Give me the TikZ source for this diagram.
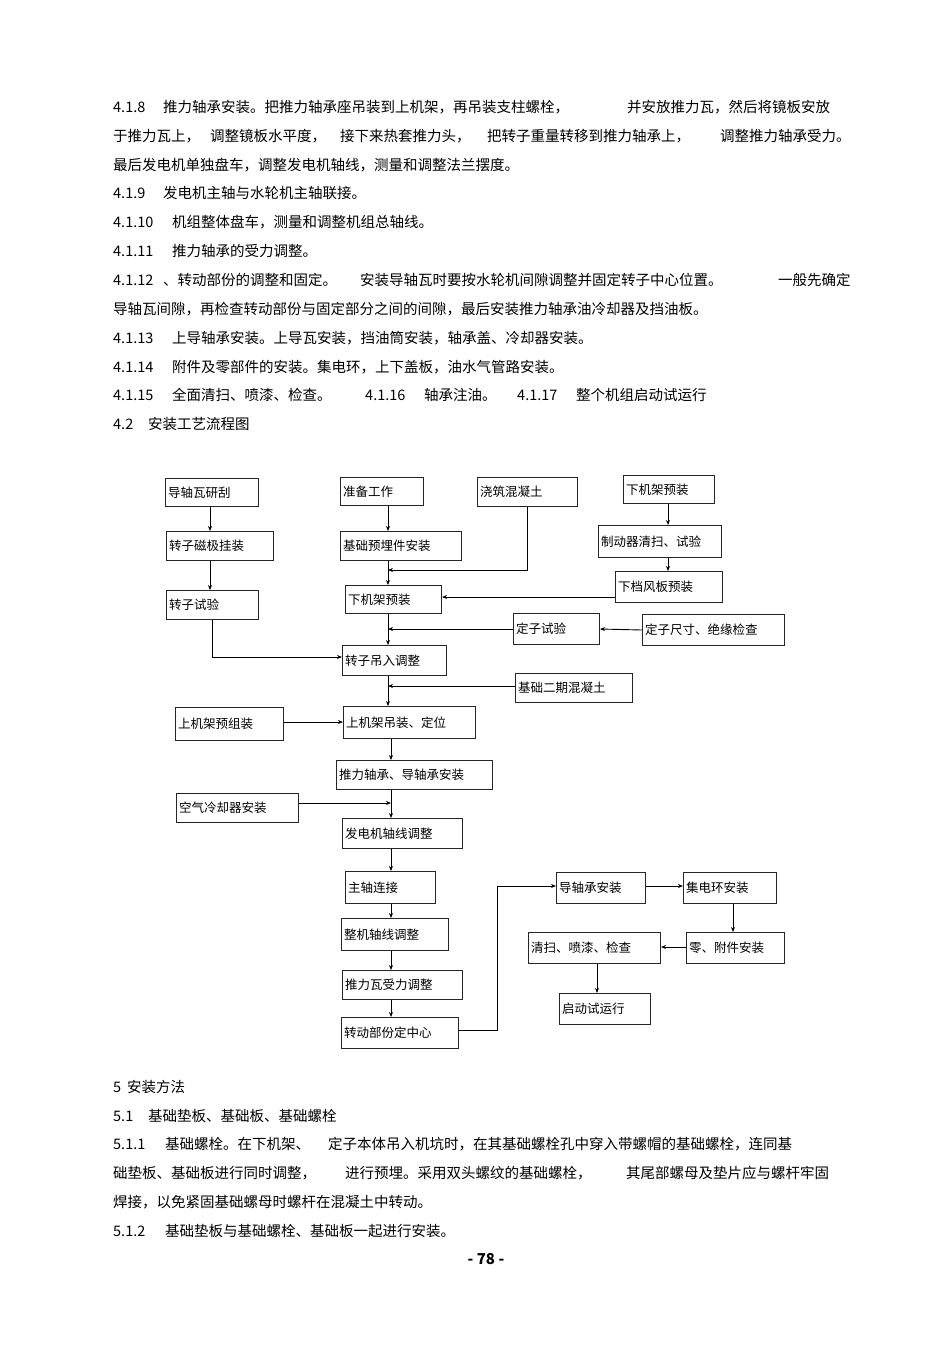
\documentclass[tikz,border=0pt]{standalone}
\usepackage{fontspec}
\setmainfont{Noto Sans CJK SC}
\usetikzlibrary{arrows.meta}
\newcommand{\bx}[6]{%
  \node[boxs,minimum width=#4pt-#2pt,minimum height=#5pt-#3pt] (#1) at (#2,#3) {};
  \node[btxt] (#1-t) at ([xshift=3pt]#1.west) {#6};}
\begin{document}
\begin{tikzpicture}[x=1pt,y=-1pt,
  boxs/.style={draw,line width=1pt,anchor=north west,inner sep=0pt,draw=black!85},
  btxt/.style={anchor=west,inner sep=0pt,font=\fontsize{12.5}{13}\selectfont},
  ptxt/.style={anchor=west,inner sep=0pt,font=\fontsize{14.5}{15}\selectfont},
  arr/.style={line width=0.9pt,-{Stealth[length=5pt,width=4pt]}},
  ln/.style={line width=0.9pt}]
\useasboundingbox[fill=white] (0,0) rectangle (950,1345);
% body text
\node[ptxt] (a1) at (113,107) {4.1.8};
\node[ptxt] (a2) at (163,107) {推力轴承安装。把推力轴承座吊装到上机架，再吊装支柱螺栓，};
\node[ptxt] (a3) at (627,107) {并安放推力瓦，然后将镜板安放};
\node[ptxt] (b1) at (113,136) {于推力瓦上，};
\node[ptxt] (b2) at (210,136) {调整镜板水平度，};
\node[ptxt] (b3) at (340,136) {接下来热套推力头，};
\node[ptxt] (b4) at (487,136) {把转子重量转移到推力轴承上，};
\node[ptxt] (b5) at (720,136) {调整推力轴承受力。};
\node[ptxt] (c1) at (113,165) {最后发电机单独盘车，调整发电机轴线，测量和调整法兰摆度。};
\node[ptxt] (d1) at (113,193) {4.1.9};
\node[ptxt] (d2) at (163,193) {发电机主轴与水轮机主轴联接。};
\node[ptxt] (e1) at (113,222) {4.1.10};
\node[ptxt] (e2) at (172,222) {机组整体盘车，测量和调整机组总轴线。};
\node[ptxt] (f1) at (113,251) {4.1.11};
\node[ptxt] (f2) at (172,251) {推力轴承的受力调整。};
\node[ptxt] (g1) at (113,280) {4.1.12};
\node[ptxt] (g2) at (163,280) {、转动部份的调整和固定。};
\node[ptxt] (g3) at (360,280) {安装导轴瓦时要按水轮机间隙调整并固定转子中心位置。};
\node[ptxt] (g4) at (778,280) {一般先确定};
\node[ptxt] (h1) at (113,309) {导轴瓦间隙，再检查转动部份与固定部分之间的间隙，最后安装推力轴承油冷却器及挡油板。};
\node[ptxt] (i1) at (113,338) {4.1.13};
\node[ptxt] (i2) at (172,338) {上导轴承安装。上导瓦安装，挡油筒安装，轴承盖、冷却器安装。};
\node[ptxt] (j1) at (113,367) {4.1.14};
\node[ptxt] (j2) at (172,367) {附件及零部件的安装。集电环，上下盖板，油水气管路安装。};
\node[ptxt] (k1) at (113,395) {4.1.15};
\node[ptxt] (k2) at (172,395) {全面清扫、喷漆、检查。};
\node[ptxt] (k3) at (365,395) {4.1.16};
\node[ptxt] (k4) at (424,395) {轴承注油。};
\node[ptxt] (k5) at (517,395) {4.1.17};
\node[ptxt] (k6) at (576,395) {整个机组启动试运行};
\node[ptxt] (l1) at (113,424) {4.2};
\node[ptxt] (l2) at (148,424) {安装工艺流程图};
\node[ptxt] (m1) at (113,1087) {5\hspace{6pt}安装方法};
\node[ptxt] (n1) at (113,1116) {5.1};
\node[ptxt] (n2) at (148,1116) {基础垫板、基础板、基础螺栓};
\node[ptxt] (o1) at (113,1144) {5.1.1};
\node[ptxt] (o2) at (165,1144) {基础螺栓。在下机架、};
\node[ptxt] (o3) at (328,1144) {定子本体吊入机坑时，在其基础螺栓孔中穿入带螺帽的基础螺栓，连同基};
\node[ptxt] (p1) at (113,1173) {础垫板、基础板进行同时调整，};
\node[ptxt] (p2) at (345,1173) {进行预埋。采用双头螺纹的基础螺栓，};
\node[ptxt] (p3) at (626,1173) {其尾部螺母及垫片应与螺杆牢固};
\node[ptxt] (q1) at (113,1202) {焊接，以免紧固基础螺母时螺杆在混凝土中转动。};
\node[ptxt] (r1) at (113,1231) {5.1.2};
\node[ptxt] (r2) at (165,1231) {基础垫板与基础螺栓、基础板一起进行安装。};
\node[inner sep=0pt,font=\fontsize{15}{16}\bfseries\selectfont] (pg) at (486,1259) {- 78 -};
% boxes
\bx{dzw}{165}{478}{258}{506}{导轴瓦研刮}
\bx{zbgz}{340}{477}{423}{505}{准备工作}
\bx{jz}{477}{477}{577}{506}{浇筑混凝土}
\bx{xjj1}{623}{475}{714}{503}{下机架预装}
\bx{zzcj}{166}{531}{273}{560}{转子磁极挂装}
\bx{jcyj}{340}{531}{461}{560}{基础预埋件安装}
\bx{zdq}{598}{525}{721}{557}{制动器清扫、试验}
\bx{zzsy}{166}{590}{258}{619}{转子试验}
\bx{xjj}{345}{585}{441}{613}{下机架预装}
\bx{xdf}{615}{571}{722}{602}{下档风板预装}
\bx{dzsy}{513}{613}{599}{644}{定子试验}
\bx{dzcc}{642}{614}{784}{645}{定子尺寸、绝缘检查}
\bx{zzdr}{342}{645}{446}{675}{转子吊入调整}
\bx{jcej}{515}{673}{632}{702}{基础二期混凝土}
\bx{sjyz}{175}{707}{283}{740}{上机架预组装}
\bx{sjdw}{343}{706}{475}{738}{上机架吊装、定位}
\bx{tlzc}{336}{760}{492}{789}{推力轴承、导轴承安装}
\bx{kqlq}{176}{793}{298}{822}{空气冷却器安装}
\bx{fdzx}{342}{818}{462}{848}{发电机轴线调整}
\bx{zzlj}{345}{871}{435}{903}{主轴连接}
\bx{zjzx}{341}{918}{448}{950}{整机轴线调整}
\bx{tlw}{342}{970}{462}{999}{推力瓦受力调整}
\bx{zdbf}{341}{1017}{458}{1048}{转动部份定中心}
\bx{dzca}{556}{872}{645}{903}{导轴承安装}
\bx{jdh}{683}{872}{776}{903}{集电环安装}
\bx{qs}{528}{932}{660}{963}{清扫、喷漆、检查}
\bx{ljaz}{686}{932}{784}{963}{零、附件安装}
\bx{qdsy}{559}{993}{650}{1024}{启动试运行}
% columns
\coordinate (c1) at (388,0);
\coordinate (c2) at (391,0);
\coordinate (cl) at (210,0);
\coordinate (cr) at (668,0);
\coordinate (j1) at (388,570);
\coordinate (bend) at (497,0);
% connectors
\draw[arr] (dzw.south -| cl) -- (zzcj.north -| cl);
\draw[arr] (zzcj.south -| cl) -- (zzsy.north -| cl);
\draw[arr] (zzsy.south -| 212,0) |- (zzdr.west |- 0,657);
\draw[arr] (zbgz.south -| c1) -- (jcyj.north -| c1);
\draw[arr] (jcyj.south -| c1) -- (xjj.north -| c1);
\draw[arr] (jz.south) |- (j1);
\draw[arr] (xjj1.south -| cr) -- (zdq.north -| cr);
\draw[arr] (zdq.south -| cr) -- (xdf.north -| cr);
\draw[arr] (xdf.west |- 0,597) -- (xjj.east |- 0,597);
\draw[arr] (xjj.south -| c1) -- (zzdr.north -| c1);
\draw[arr] (dzcc.west) -- (dzsy.east);
\draw[arr] (dzsy.west |- 0,629) -- (c1 |- 0,629);
\draw[arr] (zzdr.south -| c1) -- (sjdw.north -| c1);
\draw[arr] (jcej.west |- 0,686) -- (c1 |- 0,686);
\draw[arr] (sjyz.east |- 0,722) -- (sjdw.west |- 0,722);
\draw[arr] (sjdw.south -| c2) -- (tlzc.north -| c2);
\draw[arr] (tlzc.south -| c2) -- (fdzx.north -| c2);
\draw[arr] (kqlq.east |- 0,803) -- (c2 |- 0,803);
\draw[arr] (fdzx.south -| c2) -- (zzlj.north -| c2);
\draw[arr] (zzlj.south -| c2) -- (zjzx.north -| c2);
\draw[arr] (zjzx.south -| c2) -- (tlw.north -| c2);
\draw[arr] (tlw.south -| c2) -- (zdbf.north -| c2);
\draw[arr] (zdbf.east |- 0,1030) -| (bend |- 0,886) -- (dzca.west |- 0,886);
\draw[arr] (dzca.east |- 0,886) -- (jdh.west |- 0,886);
\draw[arr] (jdh.south -| 733,0) -- (ljaz.north -| 733,0);
\draw[arr] (ljaz.west |- 0,947) -- (qs.east |- 0,947);
\draw[arr] (qs.south -| 597,0) -- (qdsy.north -| 597,0);
\end{tikzpicture}
\end{document}
